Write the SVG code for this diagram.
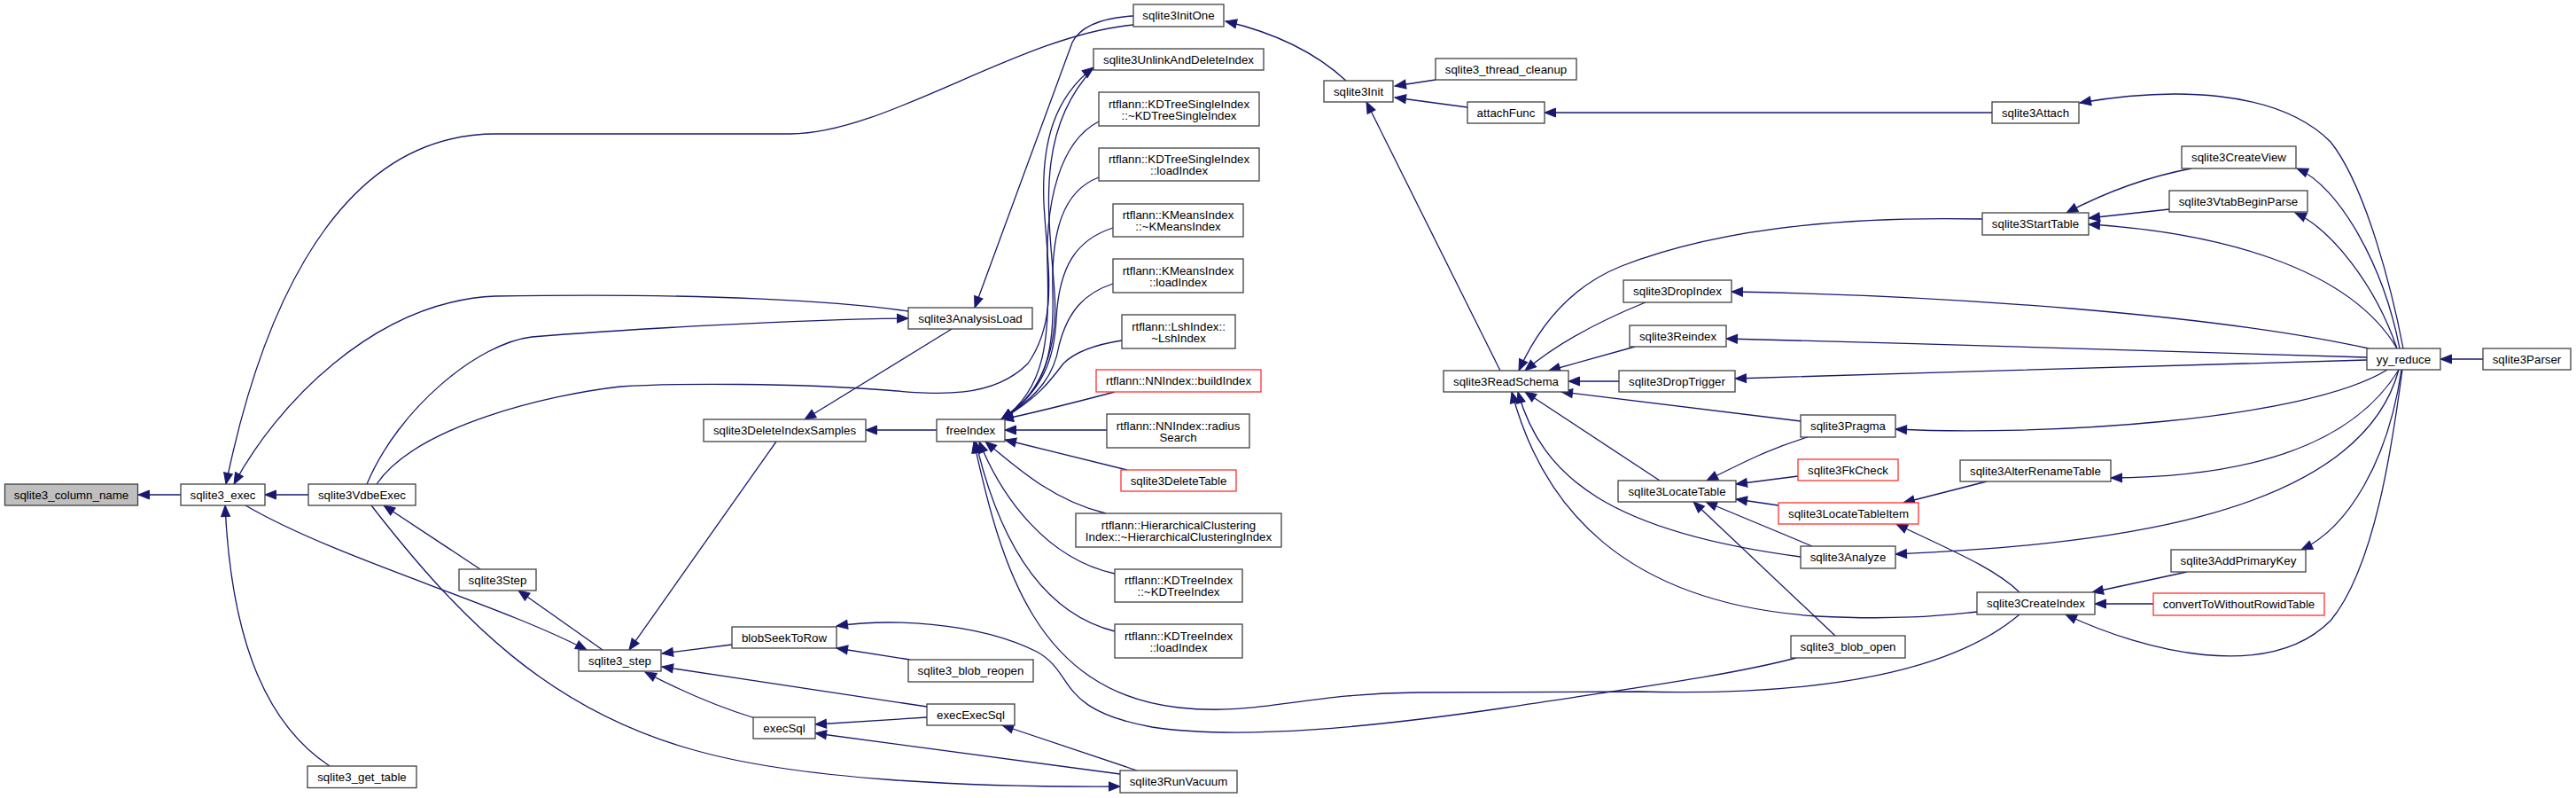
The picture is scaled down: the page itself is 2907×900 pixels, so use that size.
<svg xmlns="http://www.w3.org/2000/svg" width="2907" height="900" viewBox="0 0 2907 900">
<style>
rect{fill:#fff;stroke:#404040;stroke-width:1.3}
rect.r{stroke:#ff3030}
rect.g{fill:#bfbfbf}
text{font-family:"Liberation Sans",Arial,sans-serif;font-size:13.3px;fill:#000;text-anchor:middle}
#edges path{fill:none;stroke:#191970;stroke-width:1.3;marker-start:url(#a)}
</style>
<defs>
<marker id="a" markerUnits="userSpaceOnUse" markerWidth="14" markerHeight="11" refX="12.5" refY="5" orient="auto-start-reverse" overflow="visible"><path d="M0,0 L12.5,5 L0,10 z" fill="#191970" stroke="#191970" stroke-width="1"/></marker>
</defs>
<rect x="0" y="0" width="2907" height="900" style="fill:#fff;stroke:none"/>
<g id="edges">
<path d="M156,558 L204,558"/>
<path d="M299,558 L348,558"/>
<path d="M255,546 C285,400 360,151 560,151 L892,151 C1000,151 1150,40 1279,28"/>
<path d="M264,546 C310,460 420,340 559,334 C800,330 950,340 1025,351"/>
<path d="M1025,359 C900,360 700,372 600,380 C540,387 450,460 414,546"/>
<path d="M1234,76 C1190,110 1175,160 1178,230 C1182,300 1195,360 1160,410 C1120,450 1060,445 1000,440 C900,432 760,432 700,436 C620,445 470,480 425,546"/>
<path d="M1130,473 C1170,450 1195,400 1190,330 C1185,250 1165,150 1234,77"/>
<path d="M1130,473 C1180,440 1185,380 1182,300 C1180,230 1195,160 1240,137"/>
<path d="M1130,473 C1180,440 1190,400 1188,330 C1186,260 1200,215 1240,200"/>
<path d="M1130,473 C1180,440 1190,400 1192,360 C1195,300 1215,270 1256,257"/>
<path d="M1130,473 C1175,445 1190,420 1195,390 C1205,350 1225,330 1256,320"/>
<path d="M1130,473 C1170,450 1185,430 1200,410 C1215,395 1240,388 1266,384"/>
<path d="M1131,473 C1170,465 1220,452 1258,442"/>
<path d="M1134,485 L1249,485"/>
<path d="M1134,496 L1272,530"/>
<path d="M1112,498 C1150,530 1190,565 1248,579"/>
<path d="M1105,498 C1130,560 1180,630 1258,647"/>
<path d="M1101,498 C1125,600 1170,690 1258,712"/>
<path d="M1099,498 C1130,640 1170,780 1330,798 C1420,808 1470,782 1600,781 L1850,780 C2050,785 2200,760 2279,693"/>
<path d="M1100,347 L1210,48 C1220,28 1245,20 1279,18"/>
<path d="M908,473 L1074,371"/>
<path d="M977,485 L1057,485"/>
<path d="M710,733 L876,498"/>
<path d="M662,733 C560,680 380,630 277,570"/>
<path d="M585,666 L680,733"/>
<path d="M433,570 L542,642"/>
<path d="M254,570 C260,700 290,810 372,864"/>
<path d="M1264,887 C1100,888 900,880 780,845 C620,800 520,700 419,570"/>
<path d="M747,737 L826,727"/>
<path d="M747,752 L1046,797"/>
<path d="M728,758 C770,780 810,797 852,810"/>
<path d="M920,817 L1046,809"/>
<path d="M920,827 L1264,873"/>
<path d="M1131,818 L1283,869"/>
<path d="M944,731 L1027,744"/>
<path d="M944,706 C1000,698 1100,700 1170,735 C1215,760 1190,800 1300,820 C1400,835 1550,820 1700,798 C1850,775 1950,762 2027,742"/>
<path d="M1383,24 C1430,35 1480,55 1519,91"/>
<path d="M1574,97 L1620,90"/>
<path d="M1574,110 L1656,121"/>
<path d="M1743,127 L2248,127"/>
<path d="M1542,115 L1693,418"/>
<path d="M2347,116 C2450,98 2570,100 2630,160 C2670,210 2700,330 2712,393"/>
<path d="M2332,240 C2370,220 2420,200 2473,190"/>
<path d="M2357,246 L2448,236"/>
<path d="M2357,253 C2500,262 2650,300 2705,393"/>
<path d="M2592,190 C2640,210 2690,300 2708,393"/>
<path d="M2590,240 C2630,258 2680,320 2705,393"/>
<path d="M2754,405 L2802,405"/>
<path d="M1714,418 C1740,360 1780,320 1830,300 C1920,265 2050,243 2237,247"/>
<path d="M1721,418 C1760,385 1810,360 1857,341"/>
<path d="M1748,418 L1845,391"/>
<path d="M1770,430 L1827,430"/>
<path d="M1954,329 C2200,333 2500,355 2673,393"/>
<path d="M1948,382 C2200,388 2500,398 2671,403"/>
<path d="M1958,427 C2200,420 2500,410 2671,406"/>
<path d="M1762,442 L2032,475"/>
<path d="M1721,442 L1873,542"/>
<path d="M1713,442 C1740,540 1820,600 2032,628"/>
<path d="M1706,442 C1740,570 1830,680 2050,695 C2150,700 2200,693 2231,690"/>
<path d="M1926,542 C1970,520 2000,505 2040,493"/>
<path d="M1959,546 L2029,537"/>
<path d="M1959,563 L2007,570"/>
<path d="M1925,566 L2045,616"/>
<path d="M1911,566 L2071,717"/>
<path d="M2139,484 C2300,492 2600,475 2694,417"/>
<path d="M2148,567 L2242,543"/>
<path d="M2140,591 C2200,620 2250,640 2279,668"/>
<path d="M2382,539 C2520,538 2650,510 2707,417"/>
<path d="M2139,625 C2350,615 2660,590 2707,417"/>
<path d="M2597,620 C2650,595 2695,520 2710,417"/>
<path d="M2361,668 L2468,645"/>
<path d="M2364,681 L2430,681"/>
<path d="M2331,693 C2420,735 2560,770 2630,700 C2680,640 2700,500 2711,417"/>
</g>
<g id="n1"><rect class="g" x="5.5" y="546" width="150" height="24"/><text x="80.5" y="562.7">sqlite3_column_name</text></g>
<g id="n2"><rect x="204" y="546" width="95" height="24"/><text x="251.5" y="562.7">sqlite3_exec</text></g>
<g id="n3"><rect x="348" y="546" width="121" height="24"/><text x="408.5" y="562.7">sqlite3VdbeExec</text></g>
<g id="n4"><rect x="518" y="642" width="87" height="24"/><text x="561.5" y="658.7">sqlite3Step</text></g>
<g id="n5"><rect x="347" y="864" width="123" height="24.5"/><text x="408.5" y="880.9">sqlite3_get_table</text></g>
<g id="n6"><rect x="653" y="733" width="93" height="24"/><text x="699.5" y="749.7">sqlite3_step</text></g>
<g id="n7"><rect x="1025" y="347" width="140" height="24"/><text x="1095" y="363.7">sqlite3AnalysisLoad</text></g>
<g id="n8"><rect x="1279" y="5" width="102" height="25"/><text x="1330" y="22">sqlite3InitOne</text></g>
<g id="n9"><rect x="1234" y="55" width="192" height="24"/><text x="1330" y="71.7">sqlite3UnlinkAndDeleteIndex</text></g>
<g id="n10"><rect x="1240" y="104" width="181" height="38"/><text x="1330.5" y="121.5">rtflann::KDTreeSingleIndex</text><text x="1330.5" y="134.8">::~KDTreeSingleIndex</text></g>
<g id="n11"><rect x="1240" y="167" width="181" height="37"/><text x="1330.5" y="184">rtflann::KDTreeSingleIndex</text><text x="1330.5" y="197.3">::loadIndex</text></g>
<g id="n12"><rect x="1256" y="230" width="147" height="37"/><text x="1329.5" y="247">rtflann::KMeansIndex</text><text x="1329.5" y="260.3">::~KMeansIndex</text></g>
<g id="n13"><rect x="1256" y="292" width="147" height="38"/><text x="1329.5" y="309.5">rtflann::KMeansIndex</text><text x="1329.5" y="322.8">::loadIndex</text></g>
<g id="n14"><rect x="1266" y="355" width="128" height="38"/><text x="1330" y="372.5">rtflann::LshIndex::</text><text x="1330" y="385.8">~LshIndex</text></g>
<g id="n15"><rect class="r" x="1237" y="417" width="186" height="25"/><text x="1330" y="434">rtflann::NNIndex::buildIndex</text></g>
<g id="n16"><rect x="794" y="473" width="183" height="25"/><text x="885.5" y="490">sqlite3DeleteIndexSamples</text></g>
<g id="n17"><rect x="1057" y="473" width="77" height="25"/><text x="1095.5" y="490">freeIndex</text></g>
<g id="n18"><rect x="1249" y="467" width="161" height="38"/><text x="1329.5" y="484.5">rtflann::NNIndex::radius</text><text x="1329.5" y="497.8">Search</text></g>
<g id="n19"><rect class="r" x="1265" y="530" width="130" height="24"/><text x="1330" y="546.7">sqlite3DeleteTable</text></g>
<g id="n20"><rect x="1214" y="579" width="232" height="38"/><text x="1330" y="596.5">rtflann::HierarchicalClustering</text><text x="1330" y="609.8">Index::~HierarchicalClusteringIndex</text></g>
<g id="n21"><rect x="1258" y="642" width="144" height="37"/><text x="1330" y="659">rtflann::KDTreeIndex</text><text x="1330" y="672.3">::~KDTreeIndex</text></g>
<g id="n22"><rect x="1258" y="704" width="144" height="38"/><text x="1330" y="721.5">rtflann::KDTreeIndex</text><text x="1330" y="734.8">::loadIndex</text></g>
<g id="n23"><rect x="826" y="707" width="118" height="24"/><text x="885" y="723.7">blobSeekToRow</text></g>
<g id="n24"><rect x="1025" y="744" width="141" height="25"/><text x="1095.5" y="761">sqlite3_blob_reopen</text></g>
<g id="n25"><rect x="1046" y="794" width="99" height="24"/><text x="1095.5" y="810.7">execExecSql</text></g>
<g id="n26"><rect x="850" y="809" width="70" height="24"/><text x="885" y="825.7">execSql</text></g>
<g id="n27"><rect x="1264" y="869" width="132" height="25"/><text x="1330" y="886">sqlite3RunVacuum</text></g>
<g id="n28"><rect x="1494" y="91" width="78" height="24"/><text x="1533" y="107.7">sqlite3Init</text></g>
<g id="n29"><rect x="1620" y="66" width="159" height="24"/><text x="1699.5" y="82.7">sqlite3_thread_cleanup</text></g>
<g id="n30"><rect x="1656" y="115" width="87" height="24"/><text x="1699.5" y="131.7">attachFunc</text></g>
<g id="n31"><rect x="1629" y="418" width="141" height="24"/><text x="1699.5" y="434.7">sqlite3ReadSchema</text></g>
<g id="n32"><rect x="1832" y="316" width="122" height="25"/><text x="1893" y="333">sqlite3DropIndex</text></g>
<g id="n33"><rect x="1839" y="367" width="109" height="24"/><text x="1893.5" y="383.7">sqlite3Reindex</text></g>
<g id="n34"><rect x="1827" y="418" width="131" height="24"/><text x="1892.5" y="434.7">sqlite3DropTrigger</text></g>
<g id="n35"><rect x="2032" y="468" width="107" height="25"/><text x="2085.5" y="485">sqlite3Pragma</text></g>
<g id="n36"><rect class="r" x="2029" y="518" width="113" height="24"/><text x="2085.5" y="534.7">sqlite3FkCheck</text></g>
<g id="n37"><rect x="1826" y="542" width="133" height="24"/><text x="1892.5" y="558.7">sqlite3LocateTable</text></g>
<g id="n38"><rect class="r" x="2007" y="567" width="158" height="24"/><text x="2086" y="583.7">sqlite3LocateTableItem</text></g>
<g id="n39"><rect x="2032" y="616" width="107" height="25"/><text x="2085.5" y="633">sqlite3Analyze</text></g>
<g id="n40"><rect x="2021" y="717" width="129" height="25"/><text x="2085.5" y="734">sqlite3_blob_open</text></g>
<g id="n41"><rect x="2248" y="115" width="98" height="24"/><text x="2297" y="131.7">sqlite3Attach</text></g>
<g id="n42"><rect x="2462" y="165" width="129" height="25"/><text x="2526.5" y="182">sqlite3CreateView</text></g>
<g id="n43"><rect x="2448" y="215" width="156" height="24"/><text x="2526" y="231.7">sqlite3VtabBeginParse</text></g>
<g id="n44"><rect x="2237" y="240" width="120" height="25"/><text x="2297" y="257">sqlite3StartTable</text></g>
<g id="n45"><rect x="2671" y="393" width="83" height="24"/><text x="2712.5" y="409.7">yy_reduce</text></g>
<g id="n46"><rect x="2802" y="393" width="99" height="24"/><text x="2851.5" y="409.7">sqlite3Parser</text></g>
<g id="n47"><rect x="2212" y="519" width="170" height="24"/><text x="2297" y="535.7">sqlite3AlterRenameTable</text></g>
<g id="n48"><rect x="2450" y="620" width="152" height="25"/><text x="2526" y="637">sqlite3AddPrimaryKey</text></g>
<g id="n49"><rect x="2231" y="668" width="133" height="25"/><text x="2297.5" y="685">sqlite3CreateIndex</text></g>
<g id="n50"><rect class="r" x="2430" y="669" width="193" height="25"/><text x="2526.5" y="686">convertToWithoutRowidTable</text></g>
</svg>
